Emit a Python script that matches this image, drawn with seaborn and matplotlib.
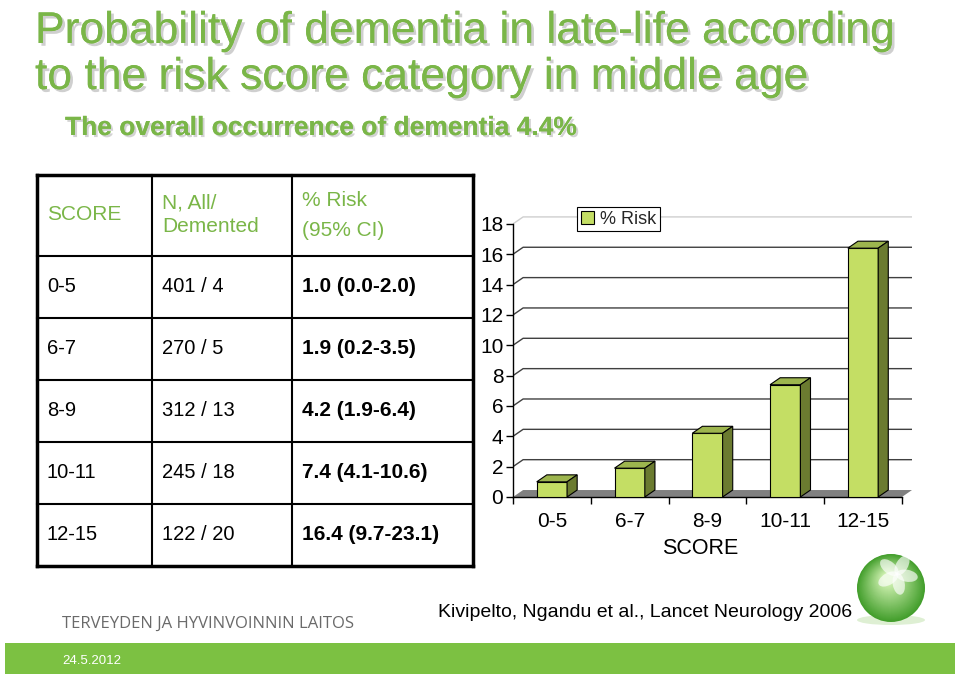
import numpy as np
import seaborn as sns
import matplotlib.pyplot as plt
import matplotlib.patheffects as pe
from matplotlib.patches import Polygon, Patch, Circle, Ellipse, Rectangle

# ---------------------------------------------------------------
# data
# ---------------------------------------------------------------
score_cats = ["0-5", "6-7", "8-9", "10-11", "12-15"]
n_all = [401, 270, 312, 245, 122]
n_demented = [4, 5, 13, 18, 20]
risk_pct = [1.0, 1.9, 4.2, 7.4, 16.4]
ci_low = [0.0, 0.2, 1.9, 4.1, 9.7]
ci_high = [2.0, 3.5, 6.4, 10.6, 23.1]
y_ticks = [0, 2, 4, 6, 8, 10, 12, 14, 16, 18]

title_lines = ["Probability of dementia in late-life according",
               "to the risk score category in middle age"]
subtitle = "The overall occurrence of dementia 4.4%"
citation = "Kivipelto, Ngandu et al., Lancet Neurology 2006"
institute = "TERVEYDEN JA HYVINVOINNIN LAITOS"
date_txt = "24.5.2012"

# ---------------------------------------------------------------
# style
# ---------------------------------------------------------------
sns.set_theme(style="white")
plt.rcParams['font.family'] = ['Liberation Sans', 'DejaVu Sans']

GREEN = '#7ab648'
FRONT = '#c4de64'
TOP = '#9db54e'
SIDE = '#6b7b30'
FLOOR = '#808080'

W, H = 960, 676
fig = plt.figure(figsize=(W / 100, H / 100), dpi=100)
fig.patch.set_facecolor('white')

# background layer in pixel coordinates (slide decoration + table)
bg = fig.add_axes([0, 0, 1, 1])
bg.set_xlim(0, W)
bg.set_ylim(H, 0)
bg.axis('off')

shadow = [pe.withSimplePatchShadow(offset=(2, -2), shadow_rgbFace='#a8a8a8', alpha=0.55), pe.Normal()]
bg.text(35, 43, title_lines[0], fontsize=32, color=GREEN, va='baseline', path_effects=shadow)
bg.text(35, 89, title_lines[1], fontsize=32, color=GREEN, va='baseline', path_effects=shadow)
bg.text(65, 135, subtitle, fontsize=19, color=GREEN, fontweight='bold', va='baseline',
        path_effects=[pe.withSimplePatchShadow(offset=(1.5, -1.5), shadow_rgbFace='#a8a8a8', alpha=0.5), pe.Normal()])

# ---------------------------------------------------------------
# table
# ---------------------------------------------------------------
col_x = [37, 152, 292, 473]
row_y = [175] + list(np.linspace(256, 566, len(score_cats) + 1))
for i, x in enumerate(col_x):
    lw = 2.5 if i in (0, len(col_x) - 1) else 1.5
    bg.plot([x, x], [row_y[0], row_y[-1]], color='black', lw=lw, solid_capstyle='projecting')
for j, y in enumerate(row_y):
    lw = 2.5 if j in (0, len(row_y) - 1) else 1.5
    bg.plot([col_x[0], col_x[-1]], [y, y], color='black', lw=lw, solid_capstyle='projecting')

pad = 10
bg.text(col_x[0] + pad, 215, "SCORE", fontsize=15, color=GREEN, va='center')
bg.text(col_x[1] + pad, 203, "N, All/", fontsize=15, color=GREEN, va='center')
bg.text(col_x[1] + pad, 226, "Demented", fontsize=15, color=GREEN, va='center')
bg.text(col_x[2] + pad, 200, "% Risk", fontsize=15, color=GREEN, va='center')
bg.text(col_x[2] + pad, 231, "(95% CI)", fontsize=15, color=GREEN, va='center')

for k in range(len(score_cats)):
    yc = (row_y[k + 1] + row_y[k + 2]) / 2
    bg.text(col_x[0] + pad, yc, score_cats[k], fontsize=14.5, color='black', va='center')
    bg.text(col_x[1] + pad, yc, f"{n_all[k]} / {n_demented[k]}", fontsize=14.5, color='black', va='center')
    bg.text(col_x[2] + pad, yc, f"{risk_pct[k]:.1f} ({ci_low[k]:.1f}-{ci_high[k]:.1f})",
            fontsize=15, color='black', va='center', fontweight='bold')

# ---------------------------------------------------------------
# footer
# ---------------------------------------------------------------
bg.add_patch(Rectangle((5, 643), 950, 31, facecolor='#7cc142', edgecolor='none'))
bg.text(62, 664, date_txt, fontsize=9.5, color='white', va='baseline')
bg.text(62, 628, institute, fontsize=12, color='#6a6a6a', va='baseline',
        family=['Open Sans', 'DejaVu Sans'])
bg.text(438, 617, citation, fontsize=14, color='black', va='baseline')

# green sphere logo
cx, cy, r = 891, 588, 34
bg.add_patch(Ellipse((cx, cy + r - 2), 2.0 * r, 10, facecolor='#d6ecc8', edgecolor='none', alpha=0.8))
for t in np.linspace(0, 1, 40):
    col = np.array([0.26, 0.62, 0.17]) * (1 - t) + np.array([0.82, 0.95, 0.70]) * t
    bg.add_patch(Circle((cx - 3 * t, cy - 10 * t), r * (1 - 0.85 * t), facecolor=col, edgecolor='none'))
for ang in [-60, 10, 80, 150, 220]:
    a = np.deg2rad(ang)
    bg.add_patch(Ellipse((897 + 10 * np.cos(a), 574 + 10 * np.sin(a)), 12, 22, angle=ang + 90,
                         facecolor='white', edgecolor='none', alpha=0.65))

# ---------------------------------------------------------------
# 3D-look bar chart
# ---------------------------------------------------------------
n = len(score_cats)
dx, dy = 0.13, 0.46
x_lo, x_hi = -0.5, n - 0.5

ax = fig.add_axes([513 / W, (H - 497) / H, 399 / W, 281.6 / H])
ax.set_facecolor('none')
sns.barplot(x=score_cats, y=risk_pct, color=FRONT, saturation=1, width=0.39,
            edgecolor='black', linewidth=0.8, ax=ax, zorder=3)
bars = list(ax.patches)

# floor
ax.add_patch(Polygon([(x_lo, 0), (x_hi, 0), (x_hi + dx, dy), (x_lo + dx, dy)],
                     closed=True, facecolor=FLOOR, edgecolor='none', zorder=1))

# back-wall gridlines with side stubs
for yv in y_ticks[1:]:
    gcol = '#cfcfcf' if yv == y_ticks[-1] else '#404040'
    ax.plot([x_lo, x_lo + dx, x_hi + dx], [yv, yv + dy, yv + dy], color=gcol, lw=1, zorder=0.5)

# side and top faces
for p in bars:
    x0, w, h = p.get_x(), p.get_width(), p.get_height()
    ax.add_patch(Polygon([(x0, h), (x0 + w, h), (x0 + w + dx, h + dy), (x0 + dx, h + dy)],
                         closed=True, facecolor=TOP, edgecolor='black', lw=0.8, zorder=3))
    ax.add_patch(Polygon([(x0 + w, 0), (x0 + w + dx, dy), (x0 + w + dx, h + dy), (x0 + w, h)],
                         closed=True, facecolor=SIDE, edgecolor='black', lw=0.8, zorder=3))

ax.set_xlim(x_lo, x_hi + dx)
ax.set_ylim(0, y_ticks[-1] + dy + 0.1)
ax.set_yticks(y_ticks)
ax.set_xticks(range(n))
ax.set_xticklabels(score_cats)
ax.set_xticks(np.arange(n + 1) - 0.5, minor=True)
ax.tick_params(axis='x', which='major', bottom=True, length=0, pad=10.5, labelsize=15, labelcolor='black')
ax.tick_params(axis='x', which='minor', bottom=True, length=5, width=1, color='black', direction='out')
ax.tick_params(axis='y', left=True, length=5, width=1, color='black', direction='out', pad=2,
               labelsize=15, labelcolor='black')

for s in ['top', 'right']:
    ax.spines[s].set_visible(False)
ax.spines['left'].set_bounds(0, y_ticks[-1])
ax.spines['bottom'].set_bounds(x_lo, x_hi)
for s in ['left', 'bottom']:
    ax.spines[s].set_color('black')
    ax.spines[s].set_linewidth(1)

ax.set_xlabel("SCORE", fontsize=15.5, color='black')
ax.xaxis.set_label_coords(0.469, -0.145)
ax.set_ylabel("")

leg = fig.legend(handles=[Patch(facecolor=FRONT, edgecolor='black', lw=0.8, label='% Risk')],
                 loc='upper left', bbox_to_anchor=(577 / W, 1 - 207 / H), frameon=True, fancybox=False,
                 edgecolor='black', framealpha=1, fontsize=13, handlelength=0.75, handleheight=0.75,
                 handletextpad=0.35, borderpad=0.2, borderaxespad=0)
leg.get_frame().set_linewidth(0.8)

fig.savefig("out.png", dpi=100)
